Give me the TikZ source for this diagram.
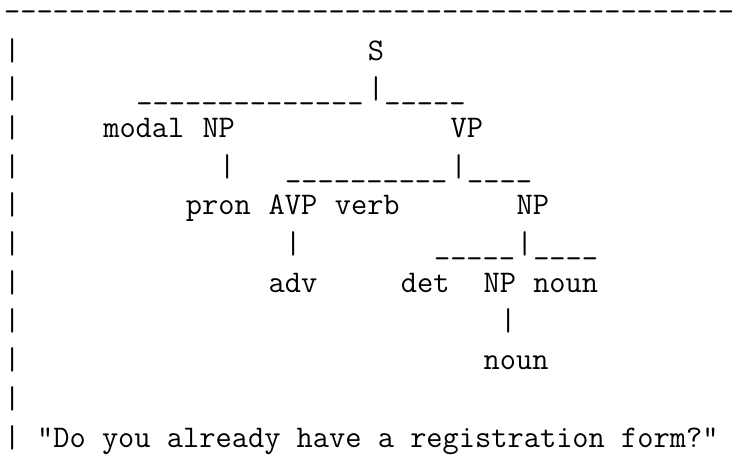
\documentclass[tikz,border=0pt]{standalone}
\tikzset{
  tt/.style={inner sep=0pt, outer sep=0pt, anchor=base west,
    font=\fontsize{31.5}{38}\selectfont\ttfamily},
  cell/.style 2 args={at={({4.06+16.5375*(#1)},{-21.3-38.7*(#2)})}}
}
\begin{document}
\begin{tikzpicture}[x=1pt,y=1pt]
\fill[white] (0,0) rectangle (754,-474);
\useasboundingbox (0,0) rectangle (754,-474);
% top rule
\node[tt,cell={0}{0}] (top) {\foreach\i in {1,...,45}{\mbox{-}}};
% left border
\foreach \r in {1,...,11} \node[tt,cell={0}{\r}] (lb\r) {|};
% row 1
\node[tt,cell={22}{1}] (S) {S};
% row 2
\node[tt,cell={8}{2}]  (uSa) {\_\_\_\_\_\_\_\_\_\_\_\_\_\_};
\node[tt,cell={22}{2}] (bS) {|};
\node[tt,cell={23}{2}] (uSb) {\_\_\_\_\_};
% row 3
\node[tt,cell={6}{3}]  (modal) {modal};
\node[tt,cell={12}{3}] (NPa) {NP};
\node[tt,cell={27}{3}] (VP) {VP};
% row 4
\node[tt,cell={13}{4}] (bNPa) {|};
\node[tt,cell={17}{4}] (uVPa) {\_\_\_\_\_\_\_\_\_\_};
\node[tt,cell={27}{4}] (bVP) {|};
\node[tt,cell={28}{4}] (uVPb) {\_\_\_\_};
% row 5
\node[tt,cell={11}{5}] (pron) {pron};
\node[tt,cell={16}{5}] (AVP) {AVP};
\node[tt,cell={20}{5}] (verb) {verb};
\node[tt,cell={31}{5}] (NPb) {NP};
% row 6
\node[tt,cell={17}{6}] (bAVP) {|};
\node[tt,cell={26}{6}] (uNPa) {\_\_\_\_\_};
\node[tt,cell={31}{6}] (bNPb) {|};
\node[tt,cell={32}{6}] (uNPb) {\_\_\_\_};
% row 7
\node[tt,cell={16}{7}] (adv) {adv};
\node[tt,cell={24}{7}] (det) {det};
\node[tt,cell={29}{7}] (NPc) {NP};
\node[tt,cell={32}{7}] (nouna) {noun};
% row 8
\node[tt,cell={30}{8}] (bNPc) {|};
% row 9
\node[tt,cell={29}{9}] (nounb) {noun};
% row 11
\node[tt,cell={2}{11}] (sent) {"Do you already have a registration form?"};
\end{tikzpicture}
\end{document}
